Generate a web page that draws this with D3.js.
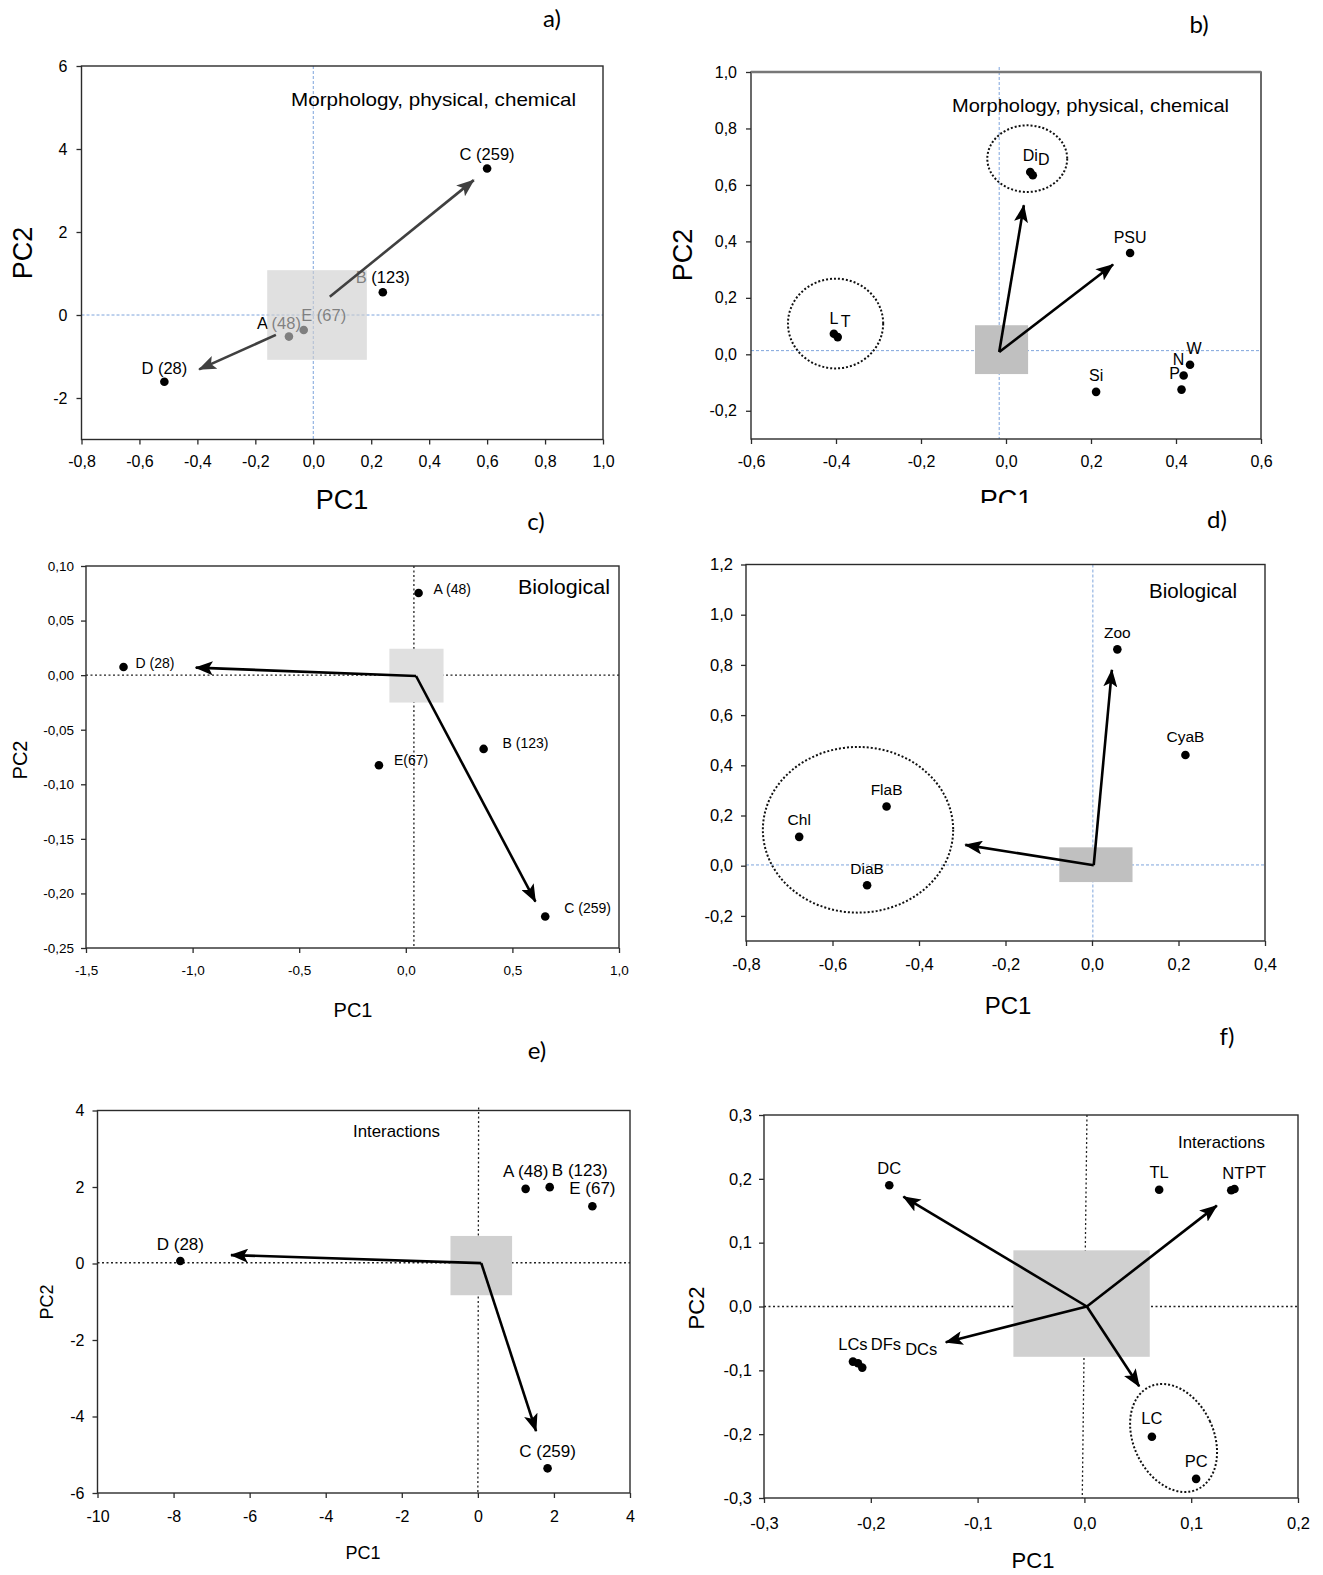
<!DOCTYPE html>
<html>
<head>
<meta charset="utf-8">
<script src="https://cdn.jsdelivr.net/npm/d3@7"></script>
<style>
  body { margin: 0; background: #fff; }
  svg text { font-family: "Liberation Sans Narrow", "Arial Narrow", "Liberation Sans", Arial, sans-serif; fill: #000; }
  .ax text { font-family: "Liberation Sans", Arial, sans-serif; }
  .title { font-family: "Liberation Sans", Arial, sans-serif; }
  .letter { font-family: Lato, "Open Sans", sans-serif; }
</style>
</head>
<body>
<svg id="fig" width="1323" height="1575"></svg>
<script>
// ---- a) sites, morphology / physical / chemical
const aNames = ["A (48)", "B (123)", "C (259)", "D (28)", "E (67)"];
const aPC1 = [-0.084, 0.24, 0.60, -0.514, -0.033];
const aPC2 = [-0.52, 0.55, 3.53, -1.61, -0.36];
const aArrows = [[0.057, 0.44, 0.554, 3.25], [-0.129, -0.48, -0.394, -1.31]];
const aXTicks = [-0.8, -0.6, -0.4, -0.2, 0.0, 0.2, 0.4, 0.6, 0.8, 1.0];
const aYTicks = [6, 4, 2, 0, -2];

// ---- b) variables, morphology / physical / chemical
const bNames = ["Di", "D", "PSU", "L", "T", "Si", "W", "N", "P"];
const bPC1 = [0.057, 0.063, 0.292, -0.405, -0.396, 0.212, 0.433, 0.418, 0.413];
const bPC2 = [0.646, 0.634, 0.359, 0.073, 0.061, -0.133, -0.037, -0.075, -0.125];
const bArrows = [[-0.016, 0.008, 0.042, 0.528], [-0.016, 0.008, 0.252, 0.318]];
const bXTicks = [-0.6, -0.4, -0.2, 0.0, 0.2, 0.4, 0.6];
const bYTicks = [1.0, 0.8, 0.6, 0.4, 0.2, 0.0, -0.2];

// ---- c) sites, biological
const cNames = ["A (48)", "B (123)", "C (259)", "D (28)", "E(67)"];
const cPC1 = [0.060, 0.365, 0.654, -1.324, -0.126];
const cPC2 = [0.0753, -0.0676, -0.2211, 0.0075, -0.0825];
const cArrows = [[0.048, -0.0008, -0.985, 0.0069], [0.048, -0.0008, 0.608, -0.2075]];
const cXTicks = [-1.5, -1.0, -0.5, 0.0, 0.5, 1.0];
const cYTicks = [0.10, 0.05, 0.00, -0.05, -0.10, -0.15, -0.20, -0.25];

// ---- d) variables, biological
const dNames = ["Zoo", "CyaB", "FlaB", "Chl", "DiaB"];
const dPC1 = [0.0586, 0.216, -0.475, -0.677, -0.520];
const dPC2 = [0.862, 0.441, 0.236, 0.115, -0.078];
const dArrows = [[0.004, 0.002, 0.046, 0.78], [0.004, 0.002, -0.293, 0.083]];
const dXTicks = [-0.8, -0.6, -0.4, -0.2, 0.0, 0.2, 0.4];
const dYTicks = [1.2, 1.0, 0.8, 0.6, 0.4, 0.2, 0.0, -0.2];

// ---- e) sites, interactions
const eNames = ["A (48)", "B (123)", "E (67)", "D (28)", "C (259)"];
const ePC1 = [1.256, 1.889, 3.011, -7.822, 1.833];
const ePC2 = [1.951, 1.996, 1.495, 0.066, -5.355];
const eArrows = [[0.09, 0.01, -6.49, 0.22], [0.09, 0.01, 1.53, -4.38]];
const eXTicks = [-10, -8, -6, -4, -2, 0, 2, 4];
const eYTicks = [4, 2, 0, -2, -4, -6];

// ---- f) variables, interactions
const fNames = ["DC", "TL", "NT", "PT", "LCs", "DFs", "DCs", "LC", "PC"];
const fPC1 = [-0.1827, 0.070, 0.1375, 0.1405, -0.2167, -0.212, -0.208, 0.0632, 0.1046];
const fPC2 = [0.190, 0.183, 0.182, 0.184, -0.0863, -0.089, -0.0957, -0.204, -0.270];
const fArrows = [[0.0023, 0, -0.1695, 0.172], [0.0023, 0, 0.124, 0.158],
                 [0.0023, 0, -0.1298, -0.056], [0.0023, 0, 0.0513, -0.125]];
const fXTicks = [-0.3, -0.2, -0.1, 0.0, 0.1, 0.2];
const fYTicks = [0.3, 0.2, 0.1, 0.0, -0.1, -0.2, -0.3];

const loc = d3.formatLocale({ decimal: ",", thousands: ".", grouping: [3], currency: ["", ""], minus: "-" });
const f1 = loc.format(".1f"), f2 = loc.format(".2f"), fd = loc.format("d");

const svg = d3.select("#fig");
const defs = svg.append("defs");

function addHead(id, color) {
  defs.append("marker")
      .attr("id", id)
      .attr("viewBox", "0 0 18 14")
      .attr("refX", 17).attr("refY", 7)
      .attr("markerWidth", 18).attr("markerHeight", 14)
      .attr("markerUnits", "userSpaceOnUse")
      .attr("orient", "auto")
    .append("path")
      .attr("d", "M0,0 L18,7 L0,14 L4,7 Z")
      .attr("fill", color);
}
addHead("headK", "#000");
addHead("headG", "#404040");

defs.append("clipPath").attr("id", "clipB")
  .append("rect").attr("x", 700).attr("y", 440).attr("width", 623).attr("height", 63);

const panels = [
  { // a
    frame: { left: 81.5, right: 603, top: 66, bottom: 439.5 },
    xDomain: [-0.8, 1.0], yDomain: [-3, 6], xTicks: aXTicks, yTicks: aYTicks, xFmt: f1, yFmt: fd,
    names: aNames, pc1: aPC1, pc2: aPC2, arrows: aArrows, arrowColor: "#404040", head: "headG",
    box: [-0.159, 0.185, -1.08, 1.08], boxFill: "#cdcdcd", boxOpacity: 0.62, boxOnTop: true,
    cross: [0, 0, 0], crossStyle: "blue",
    offsets: [[-10, -13], [0, -15], [0, -14], [0, -14], [20, -15]], anchor: "middle", labelFont: 16.5,
    title: { text: "Morphology, physical, chemical", x: 291, y: 99, w: 285, size: 19 },
    tickFont: 16, padX: 11, padY: 9,
    pc1Label: { x: 342, y: 500, size: 27 }, pc2Label: { x: 23, y: 253, size: 27 },
    letter: { text: "a)", x: 552, y: 19 }
  },
  { // b
    frame: { left: 751, right: 1261, top: 72, bottom: 439 },
    xDomain: [-0.6, 0.6], yDomain: [-0.3, 1.0], xTicks: bXTicks, yTicks: bYTicks, xFmt: f1, yFmt: f1,
    names: bNames, pc1: bPC1, pc2: bPC2, arrows: bArrows, arrowColor: "#000", head: "headK",
    box: [-0.073, 0.052, -0.070, 0.103], boxFill: "#c0c0c0",
    cross: [-0.016, -0.016, 0.013], crossStyle: "blue", crossTop: -5,
    ellipses: [[0.05, 0.693, 0.094, 0.118, 0], [-0.401, 0.109, 0.112, 0.159, 0]],
    offsets: [[0, -17], [11, -16], [0, -16], [0, -15], [8, -16], [0, -16], [4, -16], [-5, -16], [-7, -16]],
    anchor: "middle", labelFont: 16,
    title: { text: "Morphology, physical, chemical", x: 952, y: 105, w: 277, size: 19 },
    tickFont: 16, padX: 12, padY: 9, topEdge: true,
    pc1Label: { x: 1006, y: 500, size: 27, clip: "url(#clipB)" }, pc2Label: { x: 683, y: 255, size: 27 },
    letter: { text: "b)", x: 1199, y: 25 }
  },
  { // c
    frame: { left: 86, right: 619, top: 566, bottom: 948 },
    xDomain: [-1.5, 1.0], yDomain: [-0.25, 0.10], xTicks: cXTicks, yTicks: cYTicks, xFmt: f1, yFmt: f2,
    names: cNames, pc1: cPC1, pc2: cPC2, arrows: cArrows, arrowColor: "#000", head: "headK",
    box: [-0.077, 0.177, -0.0251, 0.0242], boxFill: "#e0e0e0",
    cross: [0.038, 0.038, 0], crossStyle: "black",
    offsets: [[15, -4], [19, -6], [19, -8], [12, -4], [15, -5]], anchor: "start", labelFont: 14,
    title: { text: "Biological", x: 518, y: 587, w: 92, size: 21 },
    tickFont: 13.5, padX: 12, padY: 7,
    pc1Label: { x: 353, y: 1010, size: 20 }, pc2Label: { x: 20, y: 760, size: 20 },
    letter: { text: "c)", x: 536, y: 522 }
  },
  { // d
    frame: { left: 746, right: 1265, top: 564.5, bottom: 941 },
    xDomain: [-0.8, 0.4], yDomain: [-0.3, 1.2], xTicks: dXTicks, yTicks: dYTicks, xFmt: f1, yFmt: f1,
    names: dNames, pc1: dPC1, pc2: dPC2, arrows: dArrows, arrowColor: "#000", head: "headK",
    box: [-0.0756, 0.0937, -0.0652, 0.0732], boxFill: "#c0c0c0",
    cross: [0.002, 0.002, 0.003], crossStyle: "blue",
    ellipses: [[-0.541, 0.143, 0.22, 0.33, 0]],
    offsets: [[0, -17], [0, -18], [0, -17], [0, -17], [0, -17]], anchor: "middle", labelFont: 15.5,
    title: { text: "Biological", x: 1149, y: 591, w: 88, size: 21 },
    tickFont: 16.5, padX: 12, padY: 8,
    pc1Label: { x: 1008, y: 1006, size: 24 },
    letter: { text: "d)", x: 1217, y: 520 }
  },
  { // e
    frame: { left: 97.5, right: 630, top: 1110.5, bottom: 1493 },
    xDomain: [-10, 4], yDomain: [-6, 4], xTicks: eXTicks, yTicks: eYTicks, xFmt: fd, yFmt: fd,
    names: eNames, pc1: ePC1, pc2: ePC2, arrows: eArrows, arrowColor: "#000", head: "headK",
    box: [-0.72, 0.9, -0.83, 0.72], boxFill: "#d0d0d0",
    cross: [0.02, 0.0, 0.02], crossStyle: "black", crossTop: -3,
    offsets: [[0, -17.5], [30, -17], [0, -18], [0, -16.5], [0, -17]], anchor: "middle", labelFont: 17,
    title: { text: "Interactions", x: 353, y: 1131, w: 87, size: 17 },
    tickFont: 16, padX: 13, padY: 8,
    pc1Label: { x: 363, y: 1553, size: 18 }, pc2Label: { x: 47, y: 1302, size: 18 },
    letter: { text: "e)", x: 537, y: 1051 }
  },
  { // f
    frame: { left: 764, right: 1298, top: 1115, bottom: 1498 },
    xDomain: [-0.3, 0.2], yDomain: [-0.3, 0.3], xTicks: fXTicks, yTicks: fYTicks, xFmt: f1, yFmt: f1,
    names: fNames, pc1: fPC1, pc2: fPC2, arrows: fArrows, arrowColor: "#000", head: "headK",
    box: [-0.0665, 0.0612, -0.0788, 0.088], boxFill: "#d0d0d0",
    cross: [0.0024, -0.002, 0], crossStyle: "black",
    ellipses: [[0.0835, -0.206, 0.0375, 0.0887, -25]],
    offsets: [[0, -17], [0, -17], [2, -17], [21, -17], [0, -17], [28, -19], [59, -18.5], [0, -18], [0, -17.5]],
    anchor: "middle", labelFont: 16.5,
    title: { text: "Interactions", x: 1178, y: 1142, w: 87, size: 17 },
    tickFont: 16.5, padX: 14, padY: 7,
    pc1Label: { x: 1033, y: 1560, size: 22 }, pc2Label: { x: 696, y: 1308, size: 22 },
    letter: { text: "f)", x: 1227, y: 1037 }
  }
];

function drawPanel(p) {
  const fr = p.frame;
  const x = d3.scaleLinear().domain(p.xDomain).range([fr.left, fr.right]);
  const y = d3.scaleLinear().domain(p.yDomain).range([fr.bottom, fr.top]);
  const g = svg.append("g");

  // reference cross at the origin
  const blue = p.crossStyle === "blue";
  const crossAttrs = sel => sel
      .attr("stroke", blue ? "#7ea4dc" : "#222")
      .attr("stroke-width", blue ? 1 : 1.3)
      .attr("stroke-dasharray", blue ? "3,2" : "2,2.5");
  g.append("line")
      .attr("x1", x(p.cross[0])).attr("x2", x(p.cross[1]))
      .attr("y1", fr.top + (p.crossTop || 0)).attr("y2", fr.bottom)
      .call(crossAttrs);
  g.append("line")
      .attr("x1", fr.left).attr("x2", fr.right)
      .attr("y1", y(p.cross[2])).attr("y2", y(p.cross[2]))
      .call(crossAttrs);

  const drawBox = () => g.append("rect")
      .attr("x", x(p.box[0])).attr("width", x(p.box[1]) - x(p.box[0]))
      .attr("y", y(p.box[3])).attr("height", y(p.box[2]) - y(p.box[3]))
      .attr("fill", p.boxFill)
      .attr("fill-opacity", p.boxOpacity || 1);

  const drawArrows = () => g.selectAll(null)
      .data(p.arrows)
      .join("line")
      .attr("x1", d => x(d[0])).attr("y1", d => y(d[1]))
      .attr("x2", d => x(d[2])).attr("y2", d => y(d[3]))
      .attr("stroke", p.arrowColor)
      .attr("stroke-width", 2.6)
      .attr("marker-end", `url(#${p.head})`);

  if (!p.boxOnTop) { drawBox(); drawArrows(); }

  (p.ellipses || []).forEach(e => {
    g.append("ellipse")
        .attr("transform", `translate(${x(e[0])},${y(e[1])}) rotate(${e[4]})`)
        .attr("rx", x(e[2]) - x(0)).attr("ry", y(0) - y(e[3]))
        .attr("fill", "none").attr("stroke", "#111")
        .attr("stroke-width", 2).attr("stroke-dasharray", "2,2");
  });

  const idx = d3.range(p.names.length);
  g.selectAll(null).data(idx).join("circle")
      .attr("cx", i => x(p.pc1[i])).attr("cy", i => y(p.pc2[i]))
      .attr("r", 4.3).attr("fill", "#000");

  g.selectAll(null).data(idx).join("text")
      .attr("x", i => x(p.pc1[i]) + p.offsets[i][0])
      .attr("y", i => y(p.pc2[i]) + p.offsets[i][1])
      .attr("dy", "0.35em")
      .attr("text-anchor", p.anchor)
      .style("font-size", p.labelFont + "px")
      .text(i => p.names[i]);

  if (p.boxOnTop) { drawBox(); drawArrows(); }

  // frame
  g.append("rect")
      .attr("x", fr.left).attr("y", fr.top)
      .attr("width", fr.right - fr.left).attr("height", fr.bottom - fr.top)
      .attr("fill", "none").attr("stroke", "#2b2b2b").attr("stroke-width", 1.4);
  if (p.topEdge) {
    g.append("line").attr("x1", fr.left).attr("x2", fr.right)
        .attr("y1", fr.top).attr("y2", fr.top)
        .attr("stroke", "#777").attr("stroke-width", 2.6);
  }

  const styleAxis = a => {
    a.select(".domain").remove();
    a.selectAll(".tick line").attr("stroke", "#2b2b2b").attr("stroke-width", 1.3);
    a.selectAll(".tick text").attr("fill", "#111").style("font-size", p.tickFont + "px");
  };
  g.append("g").attr("class", "ax")
      .attr("transform", `translate(0,${fr.bottom})`)
      .call(d3.axisBottom(x).tickValues(p.xTicks).tickFormat(p.xFmt).tickSize(5).tickSizeOuter(0).tickPadding(p.padX))
      .call(styleAxis);
  g.append("g").attr("class", "ax")
      .attr("transform", `translate(${fr.left},0)`)
      .call(d3.axisLeft(y).tickValues(p.yTicks).tickFormat(p.yFmt).tickSize(5).tickSizeOuter(0).tickPadding(p.padY))
      .call(styleAxis);

  // panel title inside the plot
  g.append("text")
      .attr("x", p.title.x).attr("y", p.title.y).attr("dy", "0.35em")
      .attr("textLength", p.title.w).attr("lengthAdjust", "spacingAndGlyphs")
      .style("font-size", p.title.size + "px")
      .text(p.title.text);

  // axis titles
  const t1 = g.append("text").attr("class", "title")
      .attr("x", p.pc1Label.x).attr("y", p.pc1Label.y).attr("dy", "0.35em")
      .attr("text-anchor", "middle").style("font-size", p.pc1Label.size + "px")
      .text("PC1");
  if (p.pc1Label.clip) t1.attr("clip-path", p.pc1Label.clip);
  if (p.pc2Label) {
    g.append("text").attr("class", "title")
        .attr("transform", `translate(${p.pc2Label.x},${p.pc2Label.y}) rotate(-90)`)
        .attr("dy", "0.35em").attr("text-anchor", "middle")
        .style("font-size", p.pc2Label.size + "px")
        .text("PC2");
  }

  g.append("text").attr("class", "letter")
      .attr("x", p.letter.x).attr("y", p.letter.y).attr("dy", "0.35em")
      .attr("text-anchor", "middle").style("font-size", "24px")
      .text(p.letter.text);
}

panels.forEach(drawPanel);
</script>
</body>
</html>
